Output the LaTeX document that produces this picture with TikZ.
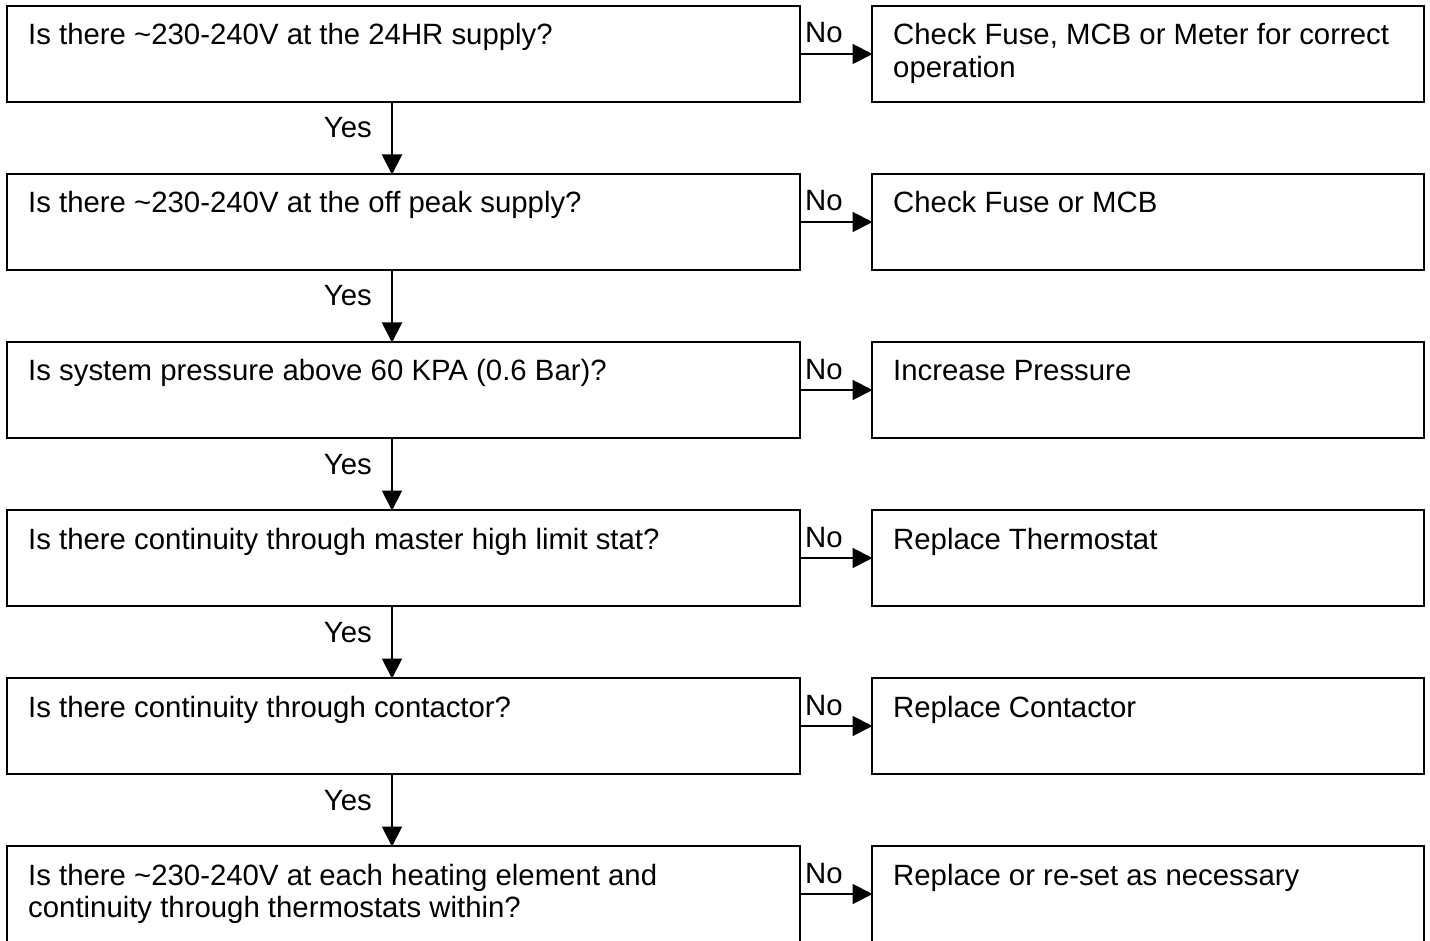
\documentclass[tikz,border=0pt]{standalone}
\usepackage{fontspec}
\setmainfont{Liberation Sans}
\usetikzlibrary{arrows.meta}
\begin{document}
\begin{tikzpicture}[x=1pt,y=-1pt,
  qbox/.style={draw=black, line width=2pt, minimum width=793pt, minimum height=96pt, anchor=north west, inner sep=0pt, outer sep=0pt},
  abox/.style={draw=black, line width=2pt, minimum width=552pt, minimum height=96pt, anchor=north west, inner sep=0pt, outer sep=0pt},
  txt/.style={anchor=base west, inner sep=0pt, font=\fontsize{29.35}{32.5}\selectfont},
  lbl/.style={inner sep=0pt, font=\fontsize{29.35}{32.5}\selectfont},
  arr/.style={line width=2pt, -{Triangle[length=20pt,width=20pt]}, shorten >=-0.5pt}
]
\useasboundingbox (0,0) rectangle (1430,941);
\clip (0,0) rectangle (1430,941);
\fill[white] (0,0) rectangle (1430,941);

\foreach \i/\q/\a in {
  1/{Is there \textasciitilde230-240V at the 24HR supply?}/{Check Fuse, MCB or Meter for correct\\operation},
  2/{Is there \textasciitilde230-240V at the off peak supply?}/{Check Fuse or MCB},
  3/{Is system pressure above 60 KPA (0.6 Bar)?}/{Increase Pressure},
  4/{Is there continuity through master high limit stat?}/{Replace Thermostat},
  5/{Is there continuity through contactor?}/{Replace Contactor},
  6/{Is there \textasciitilde230-240V at each heating element and\\continuity through thermostats within?}/{Replace or re-set as necessary}}
{
  \pgfmathsetmacro{\top}{6+168*(\i-1)}
  \node[qbox] (q\i) at (7,\top) {};
  \node[abox] (a\i) at (872,\top) {};
  \node[txt] (qt\i) at ([shift={(21pt,-39pt)}]q\i.north west) {\begin{tabular}[t]{@{}l@{}}\q\end{tabular}};
  \node[txt] (at\i) at ([shift={(21pt,-39pt)}]a\i.north west) {\begin{tabular}[t]{@{}l@{}}\a\end{tabular}};
  \draw[arr] (q\i.east) -- (a\i.west);
  \node[lbl, anchor=base west] (no\i) at ([shift={(5pt,11pt)}]q\i.east) {No};
}
\foreach \i [evaluate=\i as \j using int(\i+1)] in {1,...,5}{
  \draw[arr] ([xshift=385pt]q\i.south west) -- ([xshift=385pt]q\j.north west);
  \node[lbl, anchor=base east] (yes\i) at ([shift={(365pt,-36pt)}]q\i.south west) {Yes};
}
\end{tikzpicture}
\end{document}
